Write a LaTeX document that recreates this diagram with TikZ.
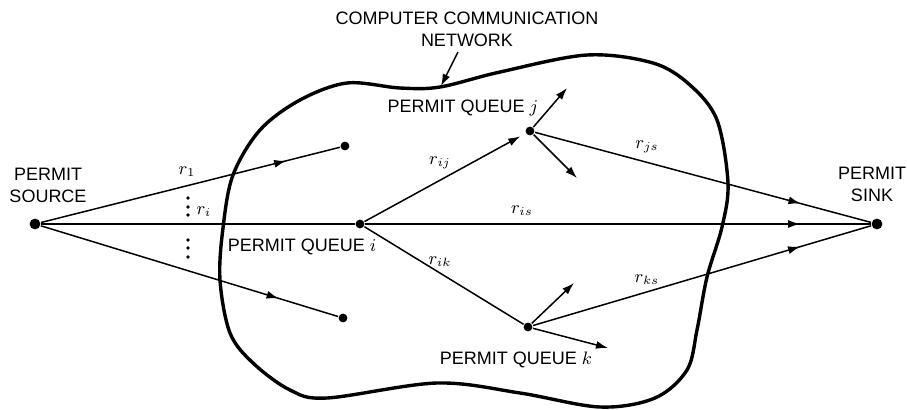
\documentclass[tikz,border=0pt]{standalone}
\usepackage{fontspec}
\setmainfont{Liberation Sans}
\usetikzlibrary{arrows.meta,decorations.markings}
\tikzset{
  dot/.style={circle,fill,inner sep=0pt,minimum size=4.4pt},
  bigdot/.style={dot,minimum size=5.4pt},
  lbl/.style={font=\fontsize{9}{11}\selectfont,align=center,inner sep=0pt},
  rate/.style={font=\small,inner sep=0pt},
  tip/.style={-{Latex[length=6pt,width=4pt]}},
  midtip/.style={postaction={decorate},decoration={markings,
    mark=at position #1 with {\arrow{Latex[length=6pt,width=4pt]}}}},
  rim/.style={line width=1.7pt,line join=round},
}
\begin{document}
\begin{tikzpicture}[x=0.5pt,y=-0.5pt,line width=0.75pt]
\useasboundingbox (0,0) rectangle (907,409);
\draw[rim] plot[smooth cycle,tension=0.55] coordinates {
  (223,228) (233,175) (260,130) (300,100) (347,83) (400,88) (440,87)
  (500,72) (587,55) (653,63) (690,85) (717,120) (728,183) (722,227)
  (707,277) (697,330) (687,370) (655,398) (600,407) (520,393)
  (437,383) (327,398) (290,390) (253,363) (230,333) (220,280)};
\node[lbl] (net) at (467,29) {COMPUTER COMMUNICATION\\NETWORK};
\coordinate (netfoot) at (458,52);
\coordinate (nettip) at (441,86);
\draw[tip] (netfoot) -- (nettip);
\node[bigdot] (src) at (35,224) {};
\node[bigdot] (sink) at (877,224) {};
\node[dot] (qi) at (360,224) {};
\node[dot] (qj) at (530,131) {};
\node[dot] (qk) at (528,327) {};
\node[dot] (da) at (345,146) {};
\node[dot] (db) at (343,318) {};
\node[lbl] (srclbl) at (48,185) {PERMIT\\SOURCE};
\node[lbl] (sinklbl) at (872,184) {PERMIT\\SINK};
\node[lbl] (qilbl) at (302,247) {PERMIT QUEUE $i$};
\node[lbl] (qjlbl) at (463,108) {PERMIT QUEUE $j$};
\node[lbl] (qklbl) at (516,360) {PERMIT QUEUE $k$};
\draw[midtip=0.82] (src) -- (da);
\draw[midtip=0.8] (src) -- (db);
\draw (src) -- (qi);
\draw[tip,shorten >=3pt] (qi) -- (qj);
\draw (qi) -- (qk);
\draw[midtip=0.86] (qi) -- (sink);
\draw[midtip=0.79] (qj) -- (sink);
\draw[midtip=0.79] (qk) -- (sink);
\coordinate (ja) at (567,88);
\coordinate (jb) at (577,178);
\coordinate (ka) at (574,283);
\coordinate (kb) at (608,348);
\draw[tip] (qj) -- (ja);
\draw[tip] (qj) -- (jb);
\draw[tip] (qk) -- (ka);
\draw[tip] (qk) -- (kb);
\foreach \y in {198,207,215,240,248,257}
  \fill (188,\y) circle (0.9pt);
\node[rate] (r1) at (187,172) {$r_1$};
\node[rate] (ri) at (204,212) {$r_i$};
\node[rate] (rij) at (440,163) {$r_{ij}$};
\node[rate] (ris) at (522,211) {$r_{is}$};
\node[rate] (rik) at (440,262) {$r_{ik}$};
\node[rate] (rjs) at (647,147) {$r_{js}$};
\node[rate] (rks) at (647,280) {$r_{ks}$};
\end{tikzpicture}
\end{document}
